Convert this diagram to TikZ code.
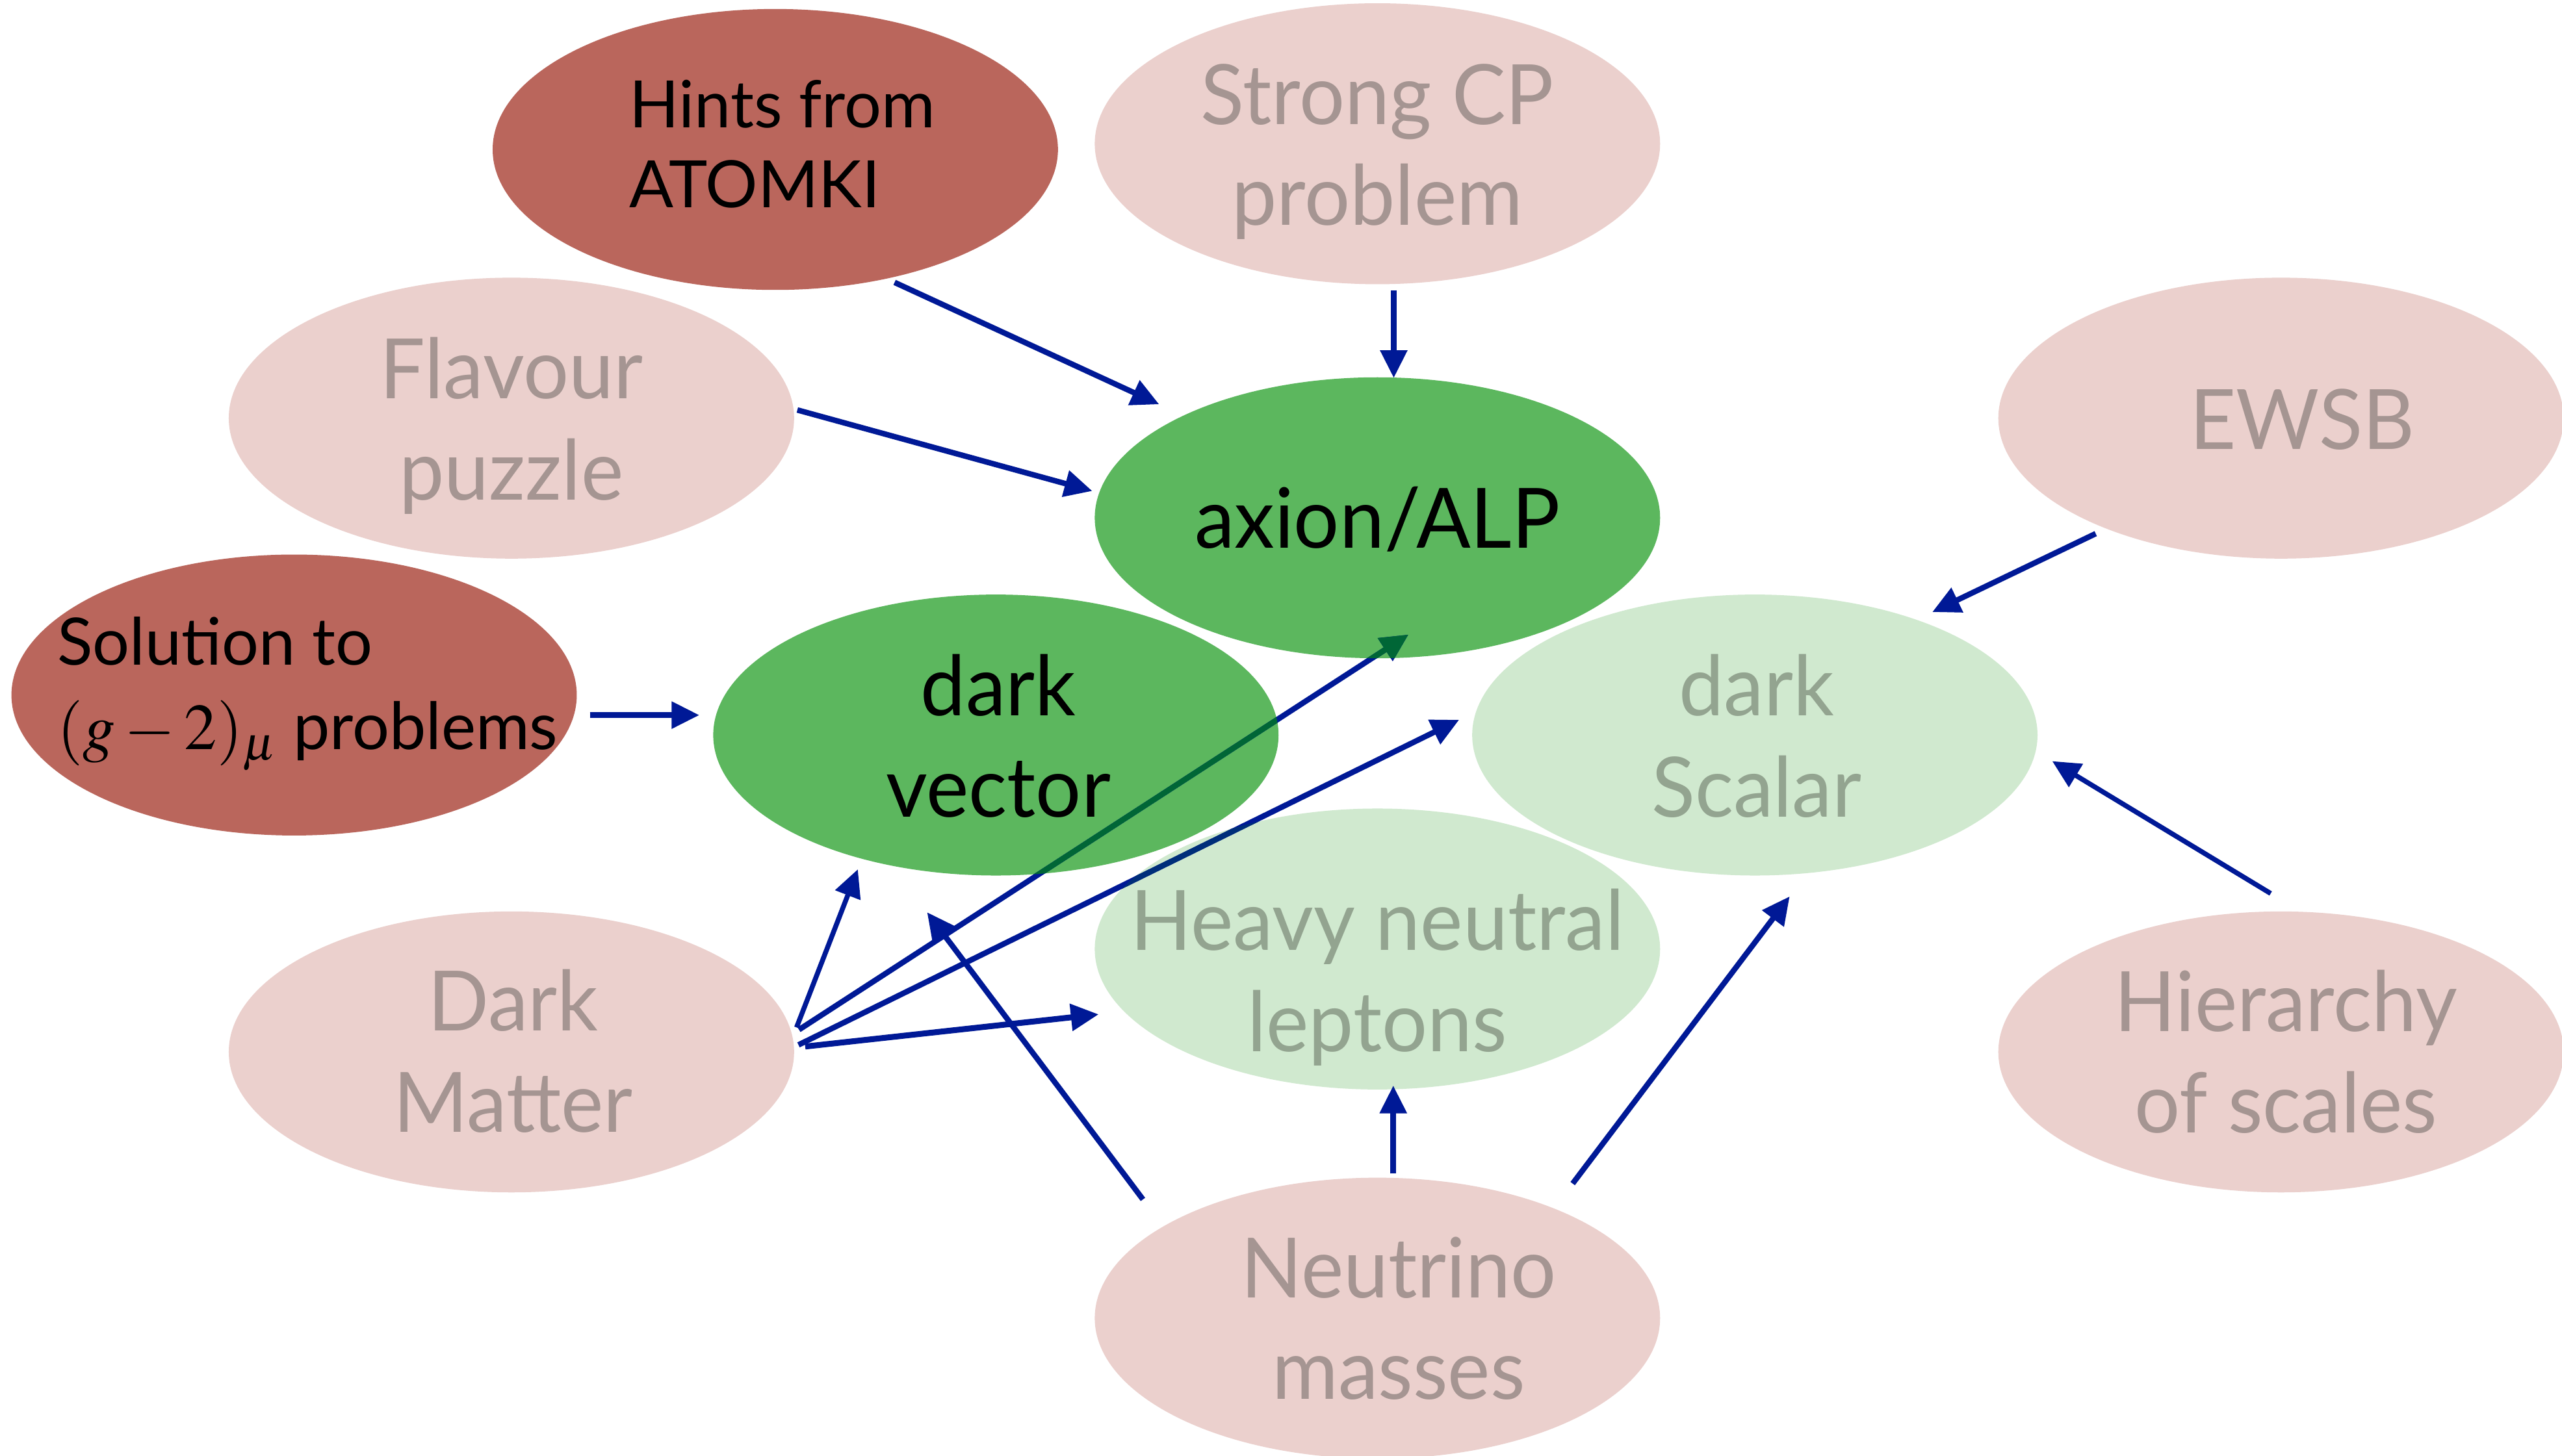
\documentclass[tikz,border=0pt]{standalone}
\usepackage{mathptmx}
\usepackage[no-math]{fontspec}
\setmainfont{Lato}
\newfontfamily\bigfam{Lato}[FakeStretch=0.965]
\usetikzlibrary{arrows.meta,shapes.geometric}
\definecolor{arrowblue}{RGB}{0,25,150}
\definecolor{redc}{RGB}{186,102,92}
\definecolor{pinkc}{RGB}{235,208,205}
\definecolor{greenc}{RGB}{92,183,94}
\definecolor{lgreenc}{RGB}{208,233,207}
\definecolor{graytxt}{RGB}{165,149,146}
\definecolor{greentxt}{RGB}{147,164,144}
\definecolor{ovgreen}{RGB}{0,102,54}
\definecolor{ovnavy}{RGB}{0,46,122}
\newcommand\bigf{\bigfam\fontsize{51}{62}\selectfont}
\newcommand\twol[2]{\begin{tabular}[t]{@{}c@{}}#1\\#2\end{tabular}}
\newcommand\twoll[2]{\begin{tabular}[t]{@{}l@{}}#1\\#2\end{tabular}}
\tikzset{
  ell/.style={ellipse, minimum width=346pt, minimum height=172pt, inner sep=0pt, draw=none},
  txt/.style={inner sep=0pt, anchor=base, font=\bigf},
  ltxt/.style={inner sep=0pt, anchor=base west},
  arr/.style={draw=arrowblue, line width=3.4pt, -{Triangle[length=17pt,width=16pt]}},
}
\begin{document}
\begin{tikzpicture}[x=1pt,y=-1pt]
\useasboundingbox (0,0) rectangle (1568,891);
% ellipses
\node[ell, fill=redc]    (atomki) at (474.5,91.5) {};
\node[ell, fill=pinkc]   (strong) at (843,88) {};
\node[ell, fill=pinkc]   (flav)   at (313,256) {};
\node[ell, fill=greenc]  (axion)  at (843,317) {};
\node[ell, fill=pinkc]   (ewsb)   at (1396,256) {};
\node[ell, fill=redc]    (gm2)    at (180,425.5) {};
\node[ell, fill=greenc]  (dv)     at (609.5,450) {};
\node[ell, fill=lgreenc] (ds)     at (1074,450) {};
\node[ell, fill=lgreenc] (hnl)    at (843,581) {};
\node[ell, fill=pinkc]   (dm)     at (313,644) {};
\node[ell, fill=pinkc]   (hier)   at (1396,644) {};
\node[ell, fill=pinkc]   (nu)     at (843,807) {};
% arrow end points
\coordinate (a1s) at (547.5,172.9); \coordinate (a1e) at (709.4,247.5);
\coordinate (a2s) at (853,177.8);   \coordinate (a2e) at (853,231.4);
\coordinate (a3s) at (488,251);     \coordinate (a3e) at (668.5,300.6);
\coordinate (a4s) at (1282.6,326.7);\coordinate (a4e) at (1182.6,374.7);
\coordinate (a5s) at (361,437.8);   \coordinate (a5e) at (428,437.8);
\coordinate (a6s) at (487.5,629);   \coordinate (a6e) at (525,532.2);
\coordinate (a7s) at (489,630.4);   \coordinate (a7e) at (862,388.5);
\coordinate (a8s) at (488.7,639.7); \coordinate (a8e) at (893,440.7);
\coordinate (a9s) at (492.8,640.7); \coordinate (a9e) at (672.4,621);
\coordinate (a10s) at (699.5,734.3);\coordinate (a10e) at (567.4,558.5);
\coordinate (a11s) at (852.7,718.5);\coordinate (a11e) at (852.7,664.6);
\coordinate (a12s) at (962.5,724.6);\coordinate (a12e) at (1095.3,548.8);
\coordinate (a13s) at (1389.7,547); \coordinate (a13e) at (1256,466);
% arrows
\draw[arr] (a1s) -- (a1e);
\draw[arr] (a2s) -- (a2e);
\draw[arr] (a3s) -- (a3e);
\draw[arr] (a4s) -- (a4e);
\draw[arr] (a5s) -- (a5e);
\draw[arr, line width=3pt] (a6s) -- (a6e);
\draw[arr] (a7s) -- (a7e);
\draw[arr] (a8s) -- (a8e);
\draw[arr, line width=3.6pt] (a9s) -- (a9e);
\draw[arr] (a10s) -- (a10e);
\draw[arr] (a11s) -- (a11e);
\draw[arr] (a12s) -- (a12e);
\draw[arr, line width=3pt] (a13s) -- (a13e);
% overlaps tinted by the ellipses
\begin{scope}
\clip (dv.center) ellipse [x radius=173pt, y radius=86pt];
\draw[arr, draw=ovgreen] (a7s) -- (a7e);
\end{scope}
\begin{scope}
\clip (axion.center) ellipse [x radius=173pt, y radius=86pt];
\draw[arr, draw=ovgreen] (a7s) -- (a7e);
\end{scope}
\begin{scope}
\clip (hnl.center) ellipse [x radius=173pt, y radius=86pt];
\draw[arr, draw=ovnavy] (a8s) -- (a8e);
\end{scope}
% texts
\node[ltxt, font=\fontsize{40}{49}\selectfont] (atomkit) at (385,78) {\twoll{Hints from}{ATOMKI}};
\node[txt, text=graytxt] (strongt) at (843,76) {\twol{Strong CP}{problem}};
\node[txt, text=graytxt] (flavt) at (313,244) {\twol{Flavour}{puzzle}};
\node[txt] (axiont) at (843,335.4) {axion/ALP};
\node[txt, text=graytxt] (ewsbt) at (1409,275) {EWSB};
\node[ltxt, font=\fontsize{40}{52}\selectfont] (gm2t) at (35,407) {\twoll{Solution to}{$(g-2)_\mu$ problems}};
\node[txt] (dvt) at (611,438) {\twol{dark}{vector}};
\node[txt, text=greentxt] (dst) at (1075,438) {\twol{dark}{Scalar}};
\node[txt, text=greentxt] (hnlt) at (843,581.6) {\twol{Heavy neutral}{leptons}};
\node[txt, text=graytxt] (dmt) at (314,631) {\twol{Dark}{Matter}};
\node[txt, text=graytxt] (hiert) at (1399,631.5) {\twol{Hierarchy}{of scales}};
\node[txt, text=graytxt] (nut) at (856,794.4) {\twol{Neutrino}{masses}};
\end{tikzpicture}
\end{document}
